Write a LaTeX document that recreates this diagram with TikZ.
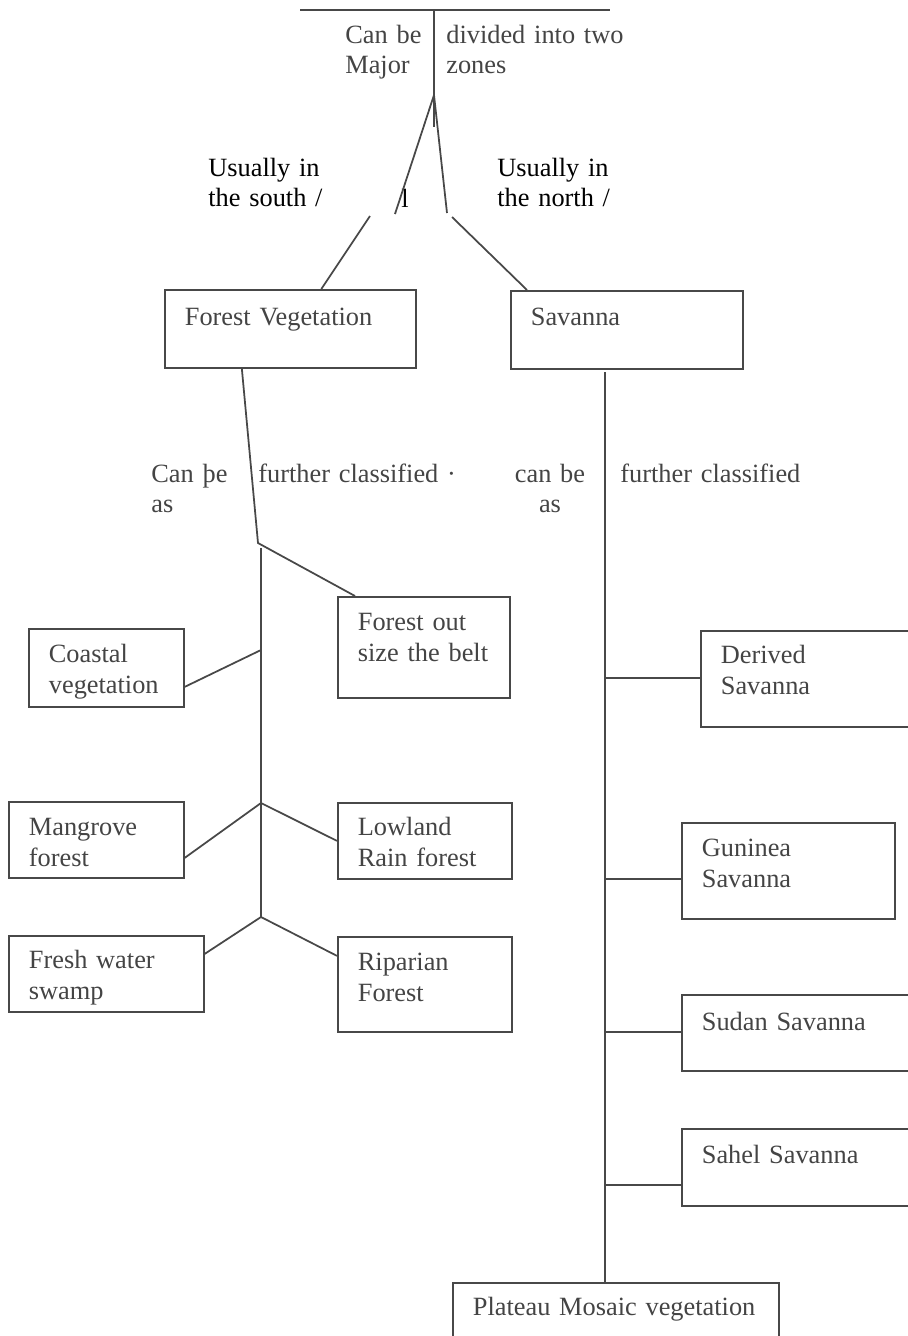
\documentclass[tikz,border=0pt]{standalone}
\usepackage{fontspec}
\setmainfont{Liberation Serif}
\usetikzlibrary{calc,positioning}
\definecolor{scanGray}{RGB}{72,72,72}
\definecolor{scanText}{RGB}{68,68,68}

\begin{document}
\begin{tikzpicture}[x=0.02cm, y=-0.02cm,
  every node/.style={font=\fontsize{15}{17.6}\selectfont, inner sep=0pt},
  vegbox/.style={draw=scanGray, line width=1pt, text=scanText, align=left, anchor=north west, inner xsep=0.4cm, inner ysep=0pt},
  note/.style={text=scanText, align=left, anchor=base west, text width=4cm},
  zonenote/.style={note, text=black},
  link/.style={draw=scanGray, line width=1pt}]
\useasboundingbox (0,0) rectangle (908,1336);
\clip (0,0) rectangle (908,1336);

% the two major zones
\node[vegbox, text width=4.22cm, text height=0.72cm, text depth=0.84cm] (forest) at (164,289) {Forest Vegetation};
\node[vegbox, text width=3.84cm, text height=0.70cm, text depth=0.86cm] (savanna) at (510,290) {Savanna};

% forest classes
\node[vegbox, text width=2.30cm, text height=0.68cm, text depth=0.88cm] (coastal) at (28,628) {Coastal\\vegetation};
\node[vegbox, text width=2.64cm, text height=0.68cm, text depth=1.34cm] (outbelt) at (337,596) {Forest out\\size the belt};
\node[vegbox, text width=2.70cm, text height=0.68cm, text depth=0.84cm] (mangrove) at (8,801) {Mangrove\\forest};
\node[vegbox, text width=2.68cm, text height=0.66cm, text depth=0.86cm] (lowland) at (337,802) {Lowland\\Rain forest};
\node[vegbox, text width=3.10cm, text height=0.66cm, text depth=0.86cm] (swamp) at (8,935) {Fresh water\\swamp};
\node[vegbox, text width=2.68cm, text height=0.68cm, text depth=1.22cm] (riparian) at (337,936) {Riparian\\Forest};

% savanna classes
\node[vegbox, text width=3.50cm, text height=0.66cm, text depth=1.26cm] (derived) at (700,630) {Derived\\Savanna};
\node[vegbox, text width=3.46cm, text height=0.68cm, text depth=1.24cm] (guinea) at (681,822) {Guninea\\Savanna};
\node[vegbox, text width=3.88cm, text height=0.72cm, text depth=0.80cm] (sudan) at (681,994) {Sudan Savanna};
\node[vegbox, text width=3.88cm, text height=0.70cm, text depth=0.84cm] (sahel) at (681,1128) {Sahel Savanna};
\node[vegbox, text width=5.72cm, text height=0.66cm, text depth=0.70cm] (plateau) at (452,1282) {Plateau Mosaic vegetation};

% labels
\node[note] (canbe) at (345,43) {Can be\\Major};
\node[note] (divided) at (446,43) {divided into two\\zones};
\node[zonenote] (south) at (208,176) {Usually in\\the south /};
\node[zonenote, text width=1cm] (cut) at (401,207) {l};
\node[zonenote] (north) at (497,176) {Usually in\\the north /};
\node[note] (fcan) at (151,482) {Can þe\\as};
\node[note] (fmore) at (258,482) {further classified ·};
\node[note, align=center, anchor=base, text width=2cm] (scan) at (550,482) {can be\\as};
\node[note] (smore) at (620,482) {further classified};

% top stem
\coordinate (barL) at (300,10);
\coordinate (barR) at (610,10);
\coordinate (stemTop) at (434,10);
\coordinate (stemEnd) at (434,127);
\coordinate (split) at (434,95);
\coordinate (southCut) at (395,214);
\coordinate (southGo) at (370,216);
\coordinate (northCut) at (447,213);
\coordinate (northGo) at (452,217);
\draw[link] (barL) -- (barR);
\draw[link] (stemTop) -- (stemEnd);
\draw[link] (split) -- (southCut);
\draw[link] (southGo) -- ([xshift=0.62cm]forest.north);
\draw[link] (split) -- (northCut);
\draw[link] (northGo) -- ([xshift=0.34cm]savanna.north west);

% forest tree
\coordinate (fKink) at (258,543);
\coordinate (fTop) at (261,548);
\coordinate (fBot) at (261,917);
\coordinate (fCoast) at (261,650);
\coordinate (fMid) at (261,803);
\draw[link] ([xshift=-0.97cm]forest.south) -- (fKink) -- ([xshift=0.36cm]outbelt.north west);
\draw[link] (fTop) -- (fBot);
\draw[link] (fCoast) -- ([yshift=-0.38cm]coastal.east);
\draw[link] (fMid) -- ([yshift=-0.36cm]mangrove.east);
\draw[link] (fMid) -- (lowland.west);
\draw[link] (fBot) -- ([yshift=0.4cm]swamp.east);
\draw[link] (fBot) -- ([yshift=0.57cm]riparian.west);

% savanna tree
\coordinate (sTop) at (605,372);
\coordinate (sDerived) at (605,678);
\coordinate (sGuinea) at (605,879);
\coordinate (sSudan) at (605,1032);
\coordinate (sSahel) at (605,1185);
\draw[link] (sTop) -- (sTop |- plateau.north);
\draw[link] (sDerived) -- (sDerived -| derived.west);
\draw[link] (sGuinea) -- (sGuinea -| guinea.west);
\draw[link] (sSudan) -- (sSudan -| sudan.west);
\draw[link] (sSahel) -- (sSahel -| sahel.west);
\end{tikzpicture}
\end{document}
